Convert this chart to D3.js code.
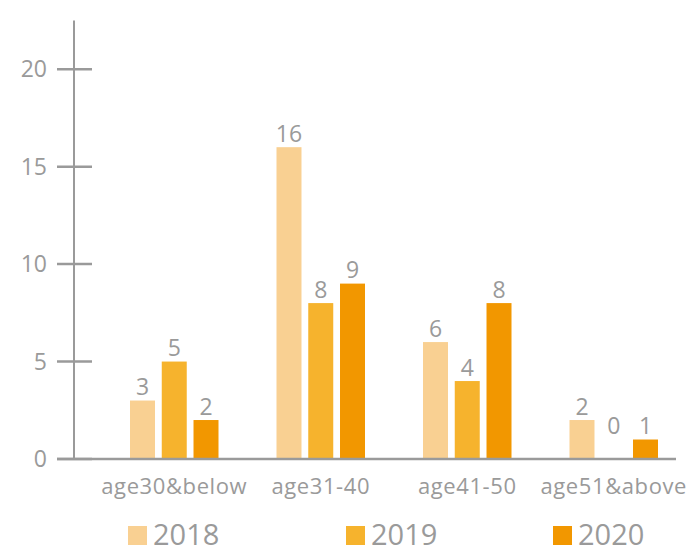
<!DOCTYPE html>
<html><head><meta charset="utf-8">
<script src="https://cdn.jsdelivr.net/npm/d3@7"></script>
<style>body{margin:0;background:#fff}svg{display:block}</style>
</head><body><svg id="c" width="699" height="554"></svg>
<script>
const categories = ["age30&below","age31-40","age41-50","age51&above"];
const seriesNames = ["2018","2019","2020"];
const v2018 = [3,16,6,2];
const v2019 = [5,8,4,0];
const v2020 = [2,9,8,1];
const yTicks = [0,5,10,15,20];
const colors = ["#F9D092","#F6B32D","#F29700"];

const series = [v2018, v2019, v2020];
const svg = d3.select("#c");
const font = "'Open Sans', 'Noto Sans', sans-serif";
const gray = "#9a9a9a";

const y = d3.scaleLinear().domain([0,22.5]).range([459,20.5]);
const x0 = d3.scaleBand().domain(categories).range([101,687]).paddingInner(0).paddingOuter(0);
const groupW = 88.5;
const x1 = d3.scaleBand().domain(seriesNames).range([0,groupW]).paddingInner(0.213);

// bars
categories.forEach((c,i)=>{
  series.forEach((s,j)=>{
    const bx = x0(c) + (x0.bandwidth()-groupW)/2 + x1(seriesNames[j]);
    const v = s[i];
    if (v>0) svg.append("rect").attr("x",bx).attr("y",y(v)).attr("width",x1.bandwidth()).attr("height",y(0)-y(v)).attr("fill",colors[j]);
    svg.append("text").attr("x",bx+x1.bandwidth()/2).attr("y",(v>0 ? y(v) : y(1)) - 5.5)
      .attr("text-anchor","middle").attr("font-family",font).attr("font-size",23)
      .attr("fill",gray).text(v);
  });
});

// y axis
svg.append("line").attr("x1",74).attr("x2",74).attr("y1",20.5).attr("y2",459).attr("stroke",gray).attr("stroke-width",2);
yTicks.forEach(t=>{
  svg.append("line").attr("x1",57).attr("x2",92).attr("y1",y(t)).attr("y2",y(t)).attr("stroke",gray).attr("stroke-width",2.5);
  svg.append("text").attr("x",47).attr("y",y(t)).attr("dy","0.35em").attr("text-anchor","end")
    .attr("font-family",font).attr("font-size",23).attr("fill",gray).text(t);
});
// x axis
svg.append("line").attr("x1",57).attr("x2",676).attr("y1",459).attr("y2",459).attr("stroke",gray).attr("stroke-width",2.5);
categories.forEach(c=>{
  svg.append("text").attr("x",x0(c)+x0.bandwidth()/2).attr("y",494).attr("text-anchor","middle")
    .attr("font-family",font).attr("font-size",22).attr("letter-spacing",0.6).attr("fill",gray).text(c);
});

// legend
const legX = [128,346,553];
seriesNames.forEach((n,j)=>{
  svg.append("rect").attr("x",legX[j]).attr("y",526).attr("width",19).attr("height",19).attr("fill",colors[j]);
  svg.append("text").attr("x",legX[j]+25).attr("y",545).attr("font-family",font).attr("font-size",29).attr("fill",gray).text(n);
});
</script></body></html>
